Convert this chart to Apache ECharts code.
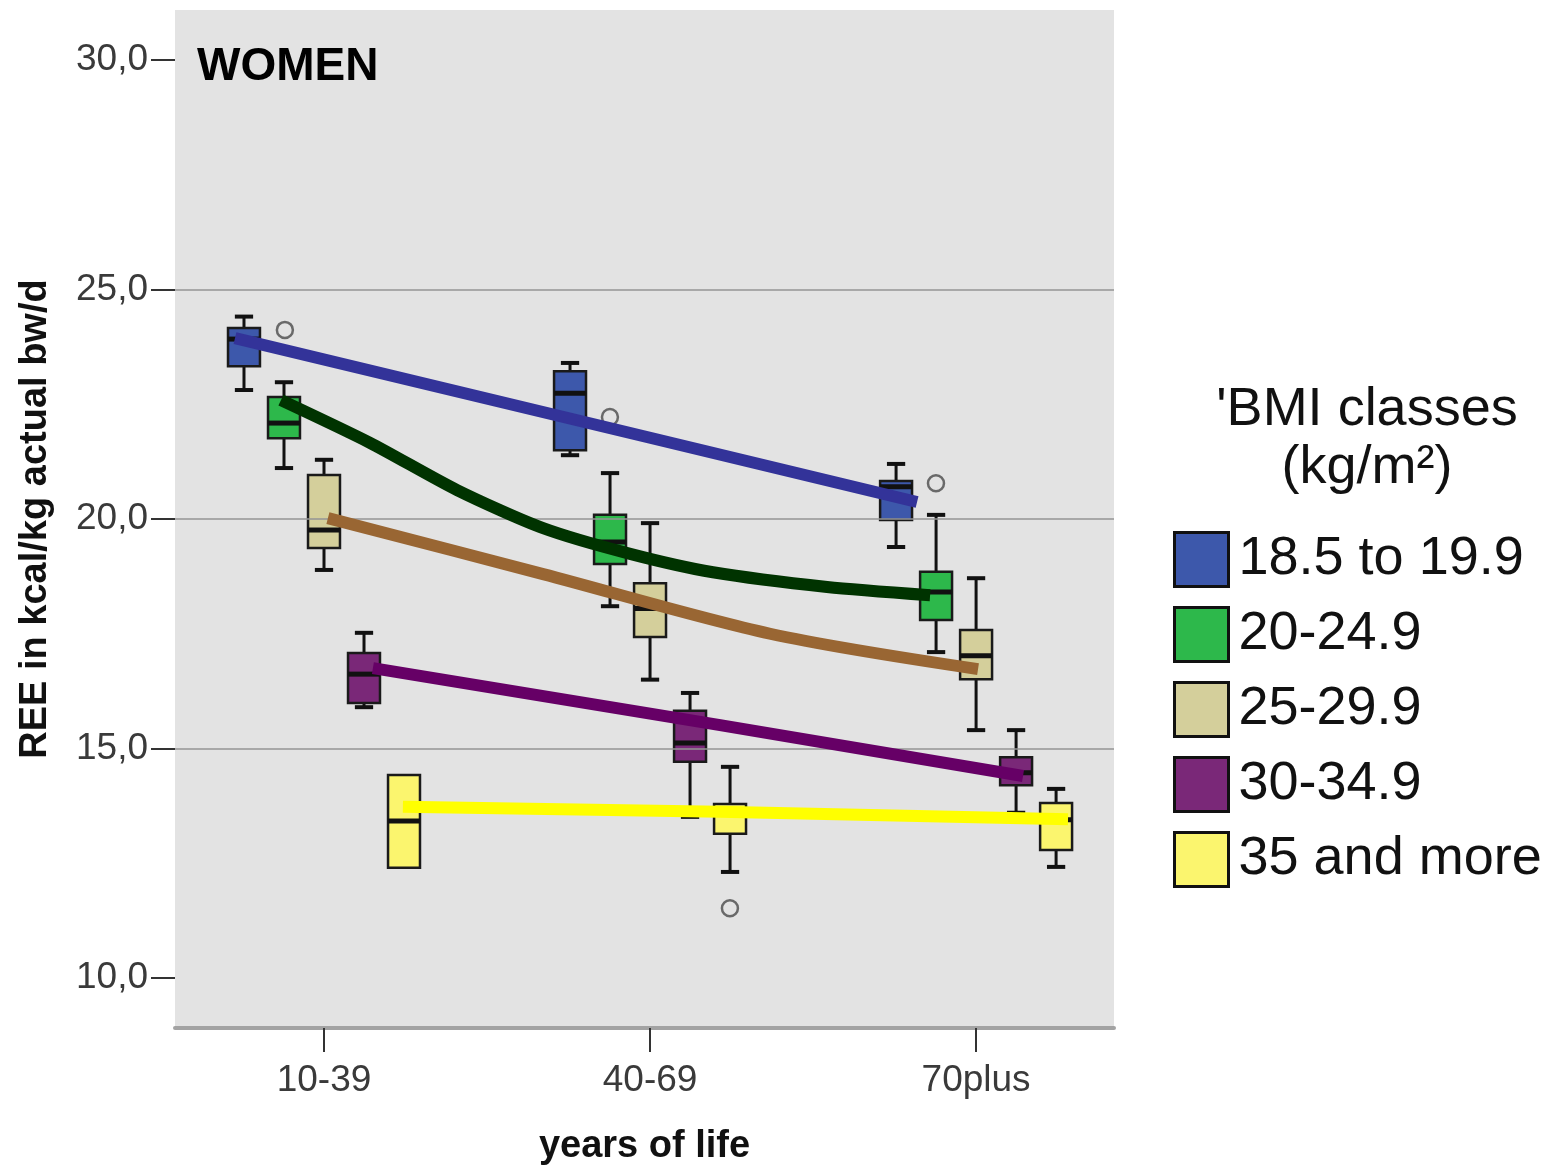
<!DOCTYPE html>
<html>
<head>
<meta charset="utf-8">
<script src="https://cdn.jsdelivr.net/npm/echarts@6/dist/echarts.min.js"></script>
<style>
  html, body { margin: 0; padding: 0; background: #fff; }
  #main { width: 1566px; height: 1168px; }
</style>
</head>
<body>
<div id="main"></div>
<script>
// age classes on the x axis
const categories = ["10-39", "40-69", "70plus"];
const groups = ["18.5 to 19.9", "20-24.9", "25-29.9", "30-34.9", "35 and more"];
const yTicks = [10, 15, 20, 25, 30];

// box values per age class: [low whisker, q1, median, q3, high whisker]
const blueBox = [[22.81, 23.33, 23.92, 24.16, 24.41], [21.39, 21.5, 22.74, 23.22, 23.4], [19.39, 19.98, 20.7, 20.83, 21.2]];
const greenBox = [[21.11, 21.76, 22.09, 22.66, 22.98], [18.1, 19.02, 19.5, 20.09, 21.0], [17.1, 17.8, 18.41, 18.85, 20.09]];
const tanBox = [[18.89, 19.37, 19.76, 20.96, 21.29], [16.5, 17.43, 18.05, 18.6, 19.91], [15.4, 16.51, 17.02, 17.58, 18.71]];
const purpleBox = [[15.9, 15.99, 16.62, 17.08, 17.52], [13.51, 14.71, 15.12, 15.82, 16.21], [13.6, 14.2, 14.47, 14.81, 15.4]];
const yellowBox = [[12.4, 12.4, 13.42, 14.42, 14.42], [12.31, 13.14, 13.62, 13.79, 14.6], [12.42, 12.79, 13.45, 13.81, 14.12]];

// outliers [x on age axis, value]
const outliers = [[-0.12, 24.12], [0.877, 22.22], [1.877, 20.78], [1.245, 11.52]];

// fitted lines [x on age axis, value]
const blueFit = [[-0.273, 23.94], [1.0, 21.77], [1.819, 20.37]];
const greenFit = [[-0.132, 22.59], [0.141, 21.66], [0.408, 20.63], [0.672, 19.8], [0.939, 19.24], [1.193, 18.84], [1.543, 18.52], [1.859, 18.34]];
const brownFit = [[0.012, 20.02], [0.672, 18.8], [1.368, 17.5], [2.006, 16.73]];
const purpleFit = [[0.15, 16.75], [1.215, 15.51], [2.144, 14.4]];
const yellowFit = [[0.242, 13.73], [1.215, 13.62], [2.282, 13.46]];

const boxes = [blueBox, greenBox, tanBox, purpleBox, yellowBox];
const fits = [blueFit, greenFit, brownFit, purpleFit, yellowFit];
const boxColors = ["#3d58ab", "#2db84b", "#d4cf9b", "#7a2878", "#fbf56e"];
const fitColors = ["#333399", "#003300", "#996633", "#660066", "#ffff00"];
const fitSmooth = [false, 0.25, 0.3, false, false];

const FONT = "Arial, 'Liberation Sans', sans-serif";
const GROUP_STEP = 0.1227; // distance between boxes of one age class
const BOX_W = 0.098;
const CAP_W = 0.056;

let myChart = echarts.init(document.getElementById("main"));

function renderBox(params, api) {
  const x = api.value(0);
  const low = api.coord([x, api.value(1)]);
  const q1 = api.coord([x, api.value(2)]);
  const med = api.coord([x, api.value(3)]);
  const q3 = api.coord([x, api.value(4)]);
  const high = api.coord([x, api.value(5)]);
  const hw = api.size([BOX_W, 0])[0] / 2;
  const cw = api.size([CAP_W, 0])[0] / 2;
  const cx = low[0];
  const stroke = { stroke: "#111", lineWidth: 3 };
  const cap = { stroke: "#111", lineWidth: 4 };
  const children = [];
  if (Math.abs(low[1] - q1[1]) > 1) {
    children.push({ type: "line", shape: { x1: cx, y1: low[1], x2: cx, y2: q1[1] }, style: stroke });
    children.push({ type: "line", shape: { x1: cx - cw, y1: low[1], x2: cx + cw, y2: low[1] }, style: cap });
  }
  if (Math.abs(high[1] - q3[1]) > 1) {
    children.push({ type: "line", shape: { x1: cx, y1: high[1], x2: cx, y2: q3[1] }, style: stroke });
    children.push({ type: "line", shape: { x1: cx - cw, y1: high[1], x2: cx + cw, y2: high[1] }, style: cap });
  }
  children.push({
    type: "rect",
    shape: { x: cx - hw, y: q3[1], width: hw * 2, height: q1[1] - q3[1] },
    style: { fill: api.visual("color"), stroke: "#1a1a1a", lineWidth: 2.5 },
  });
  children.push({ type: "line", shape: { x1: cx - hw, y1: med[1], x2: cx + hw, y2: med[1] }, style: { stroke: "#111", lineWidth: 5 } });
  return { type: "group", children: children };
}

let series = [
  {
    // reference lines at 15, 20, 25
    name: "gridlines",
    type: "line",
    data: [],
    z: 1,
    markLine: {
      silent: true,
      symbol: ["none", "none"],
      label: { show: false },
      lineStyle: { color: "#959595", width: 1.5, type: "solid" },
      data: [{ yAxis: 15 }, { yAxis: 20 }, { yAxis: 25 }],
    },
  },
];

groups.forEach((name, g) => {
  series.push({
    name: name,
    type: "custom",
    z: 3,
    itemStyle: { color: boxColors[g] },
    renderItem: renderBox,
    encode: { x: 0, y: [1, 2, 3, 4, 5] },
    data: boxes[g].map((b, i) => [i + (g - 2) * GROUP_STEP].concat(b)),
  });
});

fits.forEach((f, g) => {
  series.push({
    name: "fit " + groups[g],
    type: "line",
    z: 5,
    smooth: fitSmooth[g],
    showSymbol: false,
    silent: true,
    lineStyle: { color: fitColors[g], width: 12, cap: "butt", join: "round" },
    data: f,
  });
});

series.push({
  name: "outliers",
  type: "scatter",
  z: 4,
  symbol: "circle",
  symbolSize: 16,
  itemStyle: { color: "rgba(0,0,0,0)", borderColor: "#4a4a4a", borderWidth: 2.5 },
  data: outliers,
});

let option = {
  backgroundColor: "#fff",
  animation: false,
  title: [
    {
      text: "WOMEN",
      left: 192,
      top: 39,
      textStyle: { fontFamily: FONT, fontSize: 46, fontWeight: "bold", color: "#000" },
    },
    {
      text: "'BMI classes\n(kg/m²)",
      left: 1362,
      top: 376,
      textAlign: "center",
      textStyle: { fontFamily: FONT, fontSize: 54, fontWeight: "normal", lineHeight: 58, color: "#111" },
    },
  ],
  legend: {
    data: groups,
    orient: "vertical",
    left: 1168,
    top: 526,
    itemWidth: 54,
    itemHeight: 54,
    itemGap: 18,
    icon: "rect",
    itemStyle: { borderColor: "#111", borderWidth: 3 },
    textStyle: { fontFamily: FONT, fontSize: 54, color: "#111", padding: [0, 0, 0, 5] },
  },
  grid: {
    left: 175,
    right: 452,
    top: 10,
    bottom: 140,
    outerBoundsMode: "none",
    containLabel: false,
    show: true,
    backgroundColor: "#e3e3e3",
    borderWidth: 0,
  },
  xAxis: {
    type: "value",
    min: -0.457,
    max: 2.423,
    name: "years of life",
    nameLocation: "middle",
    nameGap: 100,
    nameTextStyle: { fontFamily: FONT, fontSize: 38, fontWeight: "bold", color: "#111" },
    axisLine: { show: true, onZero: false, lineStyle: { color: "#a3a3a3", width: 4 } },
    axisTick: { show: true, length: 24, customValues: [0, 1, 2], lineStyle: { color: "#333", width: 2 } },
    axisLabel: {
      customValues: [0, 1, 2],
      margin: 34,
      fontFamily: FONT,
      fontSize: 37,
      color: "#3a3a3a",
      formatter: (v) => categories[Math.round(v)],
    },
    splitLine: { show: false },
  },
  yAxis: {
    type: "value",
    min: 8.91,
    max: 31.09,
    name: "REE in kcal/kg actual bw/d",
    nameLocation: "middle",
    nameRotate: 90,
    nameGap: 120,
    nameTextStyle: { fontFamily: FONT, fontSize: 38, fontWeight: "bold", color: "#111" },
    axisLine: { show: false, onZero: false },
    axisTick: { show: true, length: 24, customValues: yTicks, lineStyle: { color: "#333", width: 2 } },
    axisLabel: {
      customValues: yTicks,
      margin: 27,
      fontFamily: FONT,
      fontSize: 37,
      color: "#3a3a3a",
      formatter: (v) => v.toFixed(1).replace(".", ","),
    },
    splitLine: { show: false },
  },
  series: series,
};

myChart.setOption(option);
</script>
</body>
</html>
